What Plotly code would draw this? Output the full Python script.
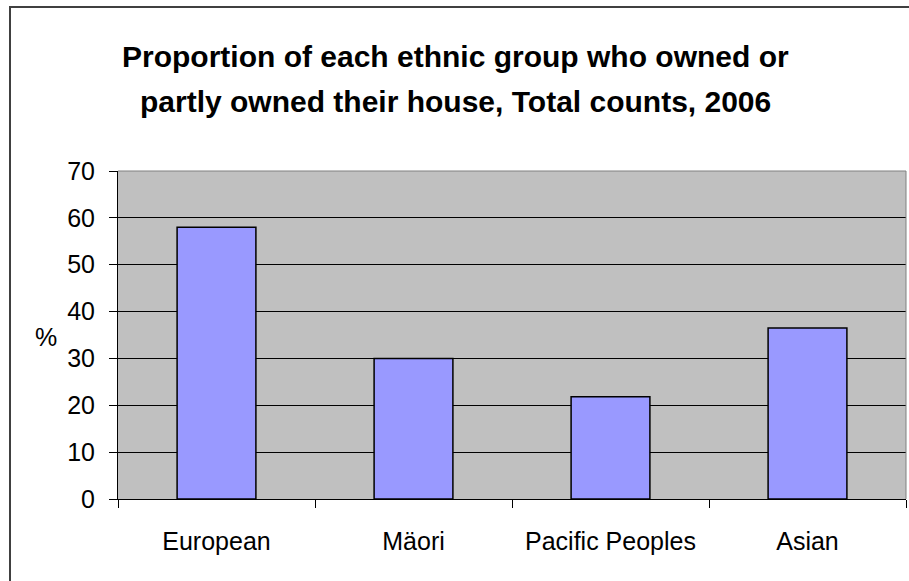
import plotly.graph_objects as go

# Home ownership by ethnic group, 2006 census (total counts)
groups = ["European", "Mäori", "Pacific Peoples", "Asian"]
owned_pct = [58.0, 30.0, 21.8, 36.5]
y_ticks = [0, 10, 20, 30, 40, 50, 60, 70]

W, H = 909, 581
L, R, T, B = 118, 3, 171, 82
pw, ph = W - L - R, H - T - B

def px_x(x):
    return (x - L) / pw

def px_y(y):
    return (H - B - y) / ph

fig = go.Figure(
    go.Bar(
        x=groups,
        y=owned_pct,
        width=0.4,
        marker=dict(color="#9999FF", line=dict(color="#000000", width=1.5)),
        hoverinfo="x+y",
    )
)

font = "Liberation Sans, Arial, sans-serif"

fig.update_layout(
    width=W,
    height=H,
    margin=dict(l=L, r=R, t=T, b=B),
    paper_bgcolor="white",
    plot_bgcolor="#C0C0C0",
    showlegend=False,
    font=dict(family=font, color="#000000", size=25),
    bargap=0.6,
)

fig.update_xaxes(
    type="category",
    tickson="boundaries",
    ticks="outside",
    ticklen=8,
    tickcolor="#000000",
    showline=True,
    linecolor="#000000",
    linewidth=1,
    showgrid=False,
    tickfont=dict(size=25),
    ticklabelstandoff=20,
)

fig.update_yaxes(
    range=[0, 70],
    tickvals=y_ticks,
    ticks="outside",
    ticklen=8,
    tickcolor="#000000",
    showline=True,
    linecolor="#000000",
    linewidth=1,
    showgrid=True,
    gridcolor="#000000",
    gridwidth=1,
    zeroline=False,
    tickfont=dict(size=25),
    ticklabelstandoff=9,
)

shapes = [
    # top and right edges of the plot area
    dict(type="line", xref="paper", yref="paper", x0=0, x1=1, y0=1, y1=1,
         line=dict(color="#808080", width=1)),
    dict(type="line", xref="paper", yref="paper", x0=1, x1=1, y0=0, y1=1,
         line=dict(color="#808080", width=1)),
    # chart frame
    dict(type="rect", xref="paper", yref="paper",
         x0=px_x(10), x1=px_x(W + 20), y0=px_y(H + 20), y1=px_y(7),
         line=dict(color="#404040", width=2), fillcolor="rgba(0,0,0,0)", layer="below"),
]
fig.update_layout(shapes=shapes)

title_lines = [
    "Proportion of each ethnic group who owned or",
    "partly owned their house, Total counts, 2006",
]
annotations = []
for line, yc in zip(title_lines, [57, 102]):
    annotations.append(dict(
        text=f"<b>{line}</b>", xref="paper", yref="paper",
        x=px_x(455), y=px_y(yc), xanchor="center", yanchor="middle",
        showarrow=False, font=dict(family=font, size=30, color="#000000"),
    ))
annotations.append(dict(
    text="%", xref="paper", yref="paper", x=px_x(46), y=px_y(337),
    xanchor="center", yanchor="middle", showarrow=False,
    font=dict(family=font, size=25, color="#000000"),
))
fig.update_layout(annotations=annotations)

fig.write_html("out.html")
